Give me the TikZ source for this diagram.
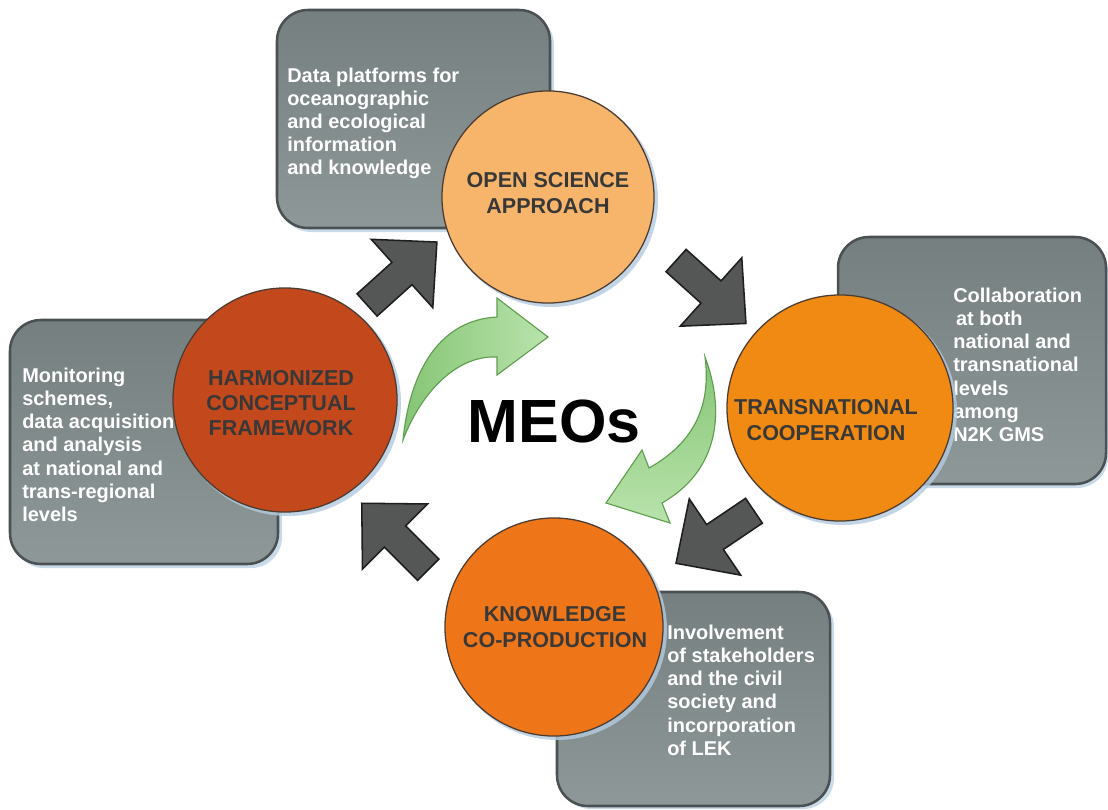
\documentclass[tikz,border=0pt]{standalone}
\usepackage{fontspec}
\setmainfont{Liberation Sans}
\definecolor{boxtop}{HTML}{767F80}
\definecolor{boxbot}{HTML}{8F9899}
\definecolor{boxedge}{HTML}{4B5152}
\definecolor{osfill}{HTML}{F6B56B}
\definecolor{tcfill}{HTML}{F08A12}
\definecolor{kcfill}{HTML}{EE7619}
\definecolor{hcfill}{HTML}{C3481B}
\definecolor{circedge}{HTML}{4A3C32}
\definecolor{ctextcol}{HTML}{383838}
\definecolor{arrfill}{HTML}{555757}
\definecolor{arredge}{HTML}{1E1E1E}
\definecolor{grnA}{HTML}{86C575}
\definecolor{grnB}{HTML}{B9E3AC}
\definecolor{grnedge}{HTML}{5E9E4E}
\definecolor{glowc}{HTML}{B3CBE0}
\tikzset{
  darkarrow/.pic={\draw[fill=arrfill,draw=arredge,line width=1.1pt,line join=miter]
    (-47,-15) -- (0,-15) -- (0,-46) -- (47,0) -- (0,46) -- (0,15) -- (-47,15) -- cycle;}
}
\begin{document}
\begin{tikzpicture}[x=0.025cm,y=0.025cm,
  boxshape/.style={draw=boxedge,line width=1.8pt,rounded corners=22pt,top color=boxtop,bottom color=boxbot},
  boxglow/.style={fill=glowc,rounded corners=22pt,opacity=0.7},
  boxtext/.style={anchor=north west,inner sep=0pt,align=left,text=white,font=\fontsize{14.2pt}{16.4pt}\selectfont\bfseries},
  circshape/.style={circle,draw=circedge,line width=0.9pt,inner sep=0pt},
  circlabel/.style={align=center,inner sep=0pt,text=ctextcol,font=\fontsize{15.3pt}{18pt}\selectfont\bfseries},
  glow/.style={fill=glowc,opacity=0.8},
  greenarrow/.style={draw=grnedge,line width=0.8pt,line join=miter}
]
\useasboundingbox (0,0) rectangle (1108,-809);
\fill[white] (0,0) rectangle (1108,-809);

% boxes
\fill[boxglow] (280,-14) rectangle (554,-232);
\draw[boxshape] (277,-10) rectangle (550,-228);
\fill[boxglow] (841,-241) rectangle (1108,-488);
\draw[boxshape] (838,-237) rectangle (1106,-484);
\fill[boxglow] (13,-324) rectangle (282,-568);
\draw[boxshape] (10,-320) rectangle (278,-564);
\fill[boxglow] (560,-596) rectangle (834,-809);
\draw[boxshape] (557,-592) rectangle (830,-806);

\node[boxtext] (t1) at (287,-68) {Data platforms for\\oceanographic\\and ecological\\information\\and knowledge};
\node[boxtext] (t2) at (953,-288) {Collaboration\\\hspace{2pt}at both\\national and\\transnational\\levels\\among\\N2K GMS};
\node[boxtext] (t3) at (22,-368) {Monitoring\\schemes,\\data acquisition\\and analysis\\at national and\\trans-regional\\levels};
\node[boxtext] (t4) at (667,-625) {Involvement\\of stakeholders\\and the civil\\society and\\incorporation\\of LEK};

% circle glows
\fill[glow] (551,-200) circle (107);
\fill[glow] (843,-411) circle (114);
\fill[glow] (288,-403) circle (113);
\fill[glow] (557,-630) circle (110);

% circles
\node[circshape,fill=osfill,minimum size=5.3cm] (os) at (548,-197) {};
\node[circshape,fill=tcfill,minimum size=5.65cm] (tc) at (840,-408) {};
\node[circshape,fill=hcfill,minimum size=5.6cm] (hc) at (285,-400) {};
\node[circshape,fill=kcfill,minimum size=5.45cm] (kc) at (554,-627) {};

\node[circlabel] (osl) at (548,-193) {OPEN SCIENCE\\APPROACH};
\node[circlabel] (tcl) at (826,-420) {TRANSNATIONAL\\COOPERATION};
\node[circlabel] (hcl) at (281,-403) {HARMONIZED\\CONCEPTUAL\\FRAMEWORK};
\node[circlabel] (kcl) at (555,-627) {KNOWLEDGE\\CO-PRODUCTION};

% dark arrows
\coordinate (a1) at (402,-273.5);
\coordinate (a2) at (711,-292);
\coordinate (a3) at (715,-537);
\coordinate (a4) at (395,-536.5);
\pic[rotate=42] at (a1) {darkarrow};
\pic[rotate=-42] at (a2) {darkarrow};
\pic[rotate=214] at (a3) {darkarrow};
\pic[rotate=135] at (a4) {darkarrow};

% green arrows
\draw[greenarrow,left color=grnA,right color=grnB]
  (403,-440) .. controls (410,-370) and (440,-320) .. (497,-317)
  -- (497,-298) -- (548,-337) -- (497,-375) -- (497,-357)
  .. controls (455,-355) and (420,-395) .. (403,-440) -- cycle;
\draw[greenarrow,top color=grnA,bottom color=grnB]
  (705,-357) .. controls (725,-410) and (720,-470) .. (662,-503)
  -- (670,-523) -- (606,-503) -- (642,-450) -- (649,-468)
  .. controls (690,-445) and (712,-410) .. (705,-357) -- cycle;

% title
\node[inner sep=0pt,font=\fontsize{43.4pt}{50pt}\selectfont\bfseries] (meo) at (554,-421) {MEOs};
\end{tikzpicture}
\end{document}
